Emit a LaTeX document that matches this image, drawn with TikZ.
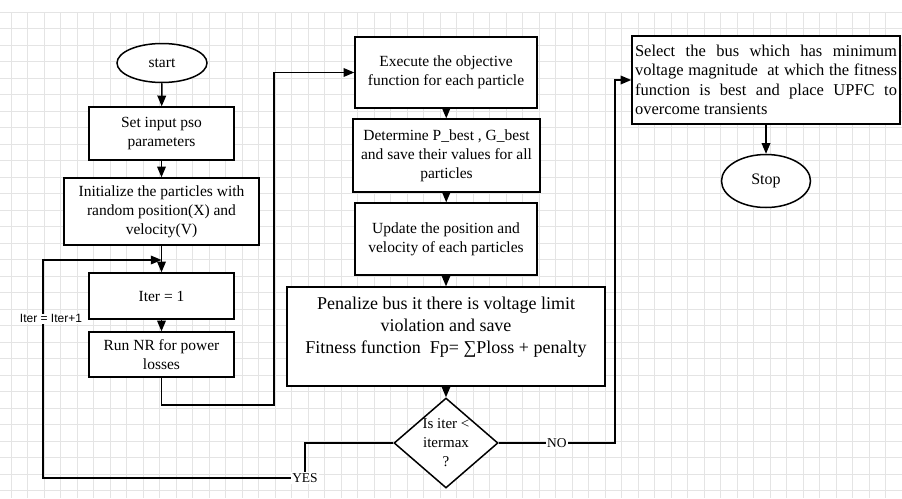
\documentclass[tikz,border=0pt]{standalone}
\usepackage{fontspec}
\setmainfont{Liberation Serif}
\newfontfamily\tagfont{Liberation Sans}
\usetikzlibrary{shapes.geometric, arrows, positioning}
\definecolor{gridcolor}{RGB}{228,228,228}

\begin{document}
\begin{tikzpicture}[x=1pt, y=-1pt,
    process/.style={draw, fill=white, line width=1.5pt, align=center, inner sep=2pt, font=\fontsize{15.5}{19}\selectfont},
    terminal/.style={draw, ellipse, fill=white, line width=1.5pt, inner sep=0pt, font=\fontsize{15.5}{18}\selectfont},
    decision/.style={draw, diamond, fill=white, line width=1.5pt, inner sep=0pt},
    arrow/.style={->, >=triangle 45, line width=1.5pt},
    tag/.style={fill=white, inner sep=1pt, font=\fontsize{13.5}{15}\selectfont}
]
\useasboundingbox (0,0) rectangle (902,498);

% Background grid
\foreach \gx in {0,...,54}
    \draw[gridcolor, line width=0.8pt] (11+\gx*16.5,12) -- (11+\gx*16.5,498);
\foreach \gy in {0,...,29}
    \draw[gridcolor, line width=0.8pt] (0,12+\gy*16.5) -- (902,12+\gy*16.5);

% Left column
\node[terminal, minimum width=90, minimum height=39] (start) at (162,63) {start};
\node[process, minimum width=145, minimum height=53] (pso) at (161.5,133.5) {Set input pso\\ parameters};
\node[process, minimum width=195, minimum height=67] (init) at (161.5,211.5) {Initialize the particles with\\ random position(X) and\\ velocity(V)};
\node[process, minimum width=145, minimum height=46] (iter) at (161.5,296) {Iter = 1};
\node[process, minimum width=145, minimum height=45] (nr) at (161.5,354.5) {Run NR for power\\ losses};

% Middle column
\node[process, minimum width=182, minimum height=71] (exec) at (446,72.5) {Execute the objective\\ function for each particle};
\node[process, minimum width=187, minimum height=73] (best) at (446.5,155.5) {Determine P\_best , G\_best\\ and save their values for all\\ particles};
\node[process, minimum width=182, minimum height=72] (update) at (446,239) {Update the position and\\ velocity of each particles};
\node[process, minimum width=318, minimum height=99, font=\fontsize{18}{22}\selectfont] (penalty) at (446,336.5) {Penalize bus it there is voltage limit\\ violation and save\\ Fitness function~ Fp= ∑Ploss + penalty\\ \mbox{}};
\node[decision, minimum width=104, minimum height=90,
      label={[align=center, font=\fontsize{15}{19}\selectfont]center:Is iter <\\ itermax\\ ?}] (check) at (446,443) {};

% Right column
\node[process, minimum width=268, minimum height=88, text width=262, align=justify, inner sep=3pt, font=\fontsize{16.5}{19.5}\selectfont] (select) at (766,80) {Select the bus which has minimum\linebreak voltage magnitude~ at which the fitness\linebreak function is best and place UPFC to\linebreak overcome transients};
\node[terminal, minimum width=89, minimum height=53, font=\fontsize{16}{18}\selectfont] (stop) at (766,181) {Stop};

% Junction points
\coordinate (jump) at (274,405);
\coordinate (yes) at (305,478);
\coordinate (back) at (43,260);
\coordinate (merge) at (161.5,260);
\coordinate (no) at (615,443);

% Arrows
\draw[arrow] (start) -- (pso);
\draw[arrow] (pso) -- (init);
\draw[arrow] (init) -- (iter);
\draw[arrow] (iter) -- (nr);
\draw[arrow] (nr.south) |- (jump) |- (exec.west);

\draw[arrow] (exec) -- (best);
\draw[arrow] (best) -- (update);
\draw[arrow] (update) -- (penalty);
\draw[arrow] (penalty) -- (check);

\draw[arrow] (check.west) -| (yes) node[tag] {YES}
    -| (back) node[tag, pos=0.865, xshift=8pt, font=\tagfont\fontsize{12}{14}\selectfont] {Iter = Iter+1}
    -- (merge);
\draw[arrow] (check.east) -- (no) node[tag, midway] {NO} |- (select.west);
\draw[arrow] (select) -- (stop);

\end{tikzpicture}
\end{document}
